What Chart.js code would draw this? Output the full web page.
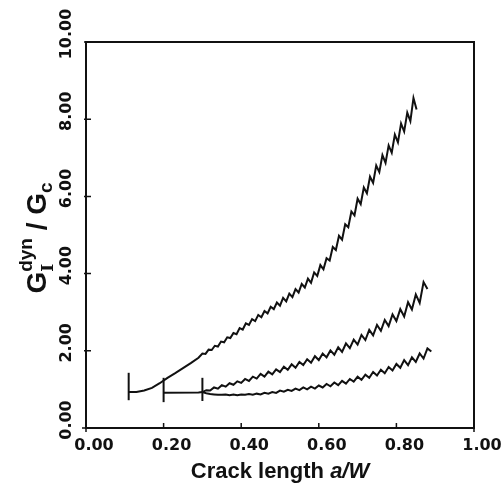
<!DOCTYPE html>
<html>
<head>
<meta charset="utf-8">
<script src="https://cdn.jsdelivr.net/npm/chart.js@4.4.0/dist/chart.umd.min.js"></script>
<style>
  html, body { margin: 0; padding: 0; background: #fff; }
  #wrap { width: 502px; height: 486px; position: relative; }
</style>
</head>
<body>
<div id="wrap"><canvas id="chart"></canvas></div>
<script>
/* axis ticks */
const xTicks = [0, 0.2, 0.4, 0.6, 0.8, 1.0];
const xTickLabels = ["0.00", "0.20", "0.40", "0.60", "0.80", "1.00"];
const yTicks = [0, 2, 4, 6, 8, 10];
const yTickLabels = ["0.00", "2.00", "4.00", "6.00", "8.00", "10.00"];

/* vertical start bars, one per crack start */
const startX = [0.11, 0.20, 0.30];
const startBarLow = [0.72, 0.67, 0.70];
const startBarHigh = [1.43, 1.30, 1.30];

/* curve 1: smooth head, then oscillating part sampled every 0.008 from 0.30 */
const head1X = [0.11, 0.13, 0.15, 0.17, 0.19, 0.21, 0.23, 0.25, 0.27, 0.29];
const head1Y = [0.93, 0.93, 0.97, 1.04, 1.16, 1.30, 1.42, 1.55, 1.68, 1.82];
const osc1Start = 0.30, osc1Step = 0.008;
const osc1Y = [
  1.93, 1.92, 2.03, 2.02, 2.13, 2.11, 2.24, 2.22, 2.35, 2.33,
  2.46, 2.43, 2.59, 2.55, 2.71, 2.67, 2.82, 2.77, 2.93, 2.87,
  3.03, 2.97, 3.14, 3.08, 3.25, 3.17, 3.37, 3.28, 3.48, 3.39,
  3.60, 3.51, 3.73, 3.64, 3.87, 3.76, 4.03, 3.94, 4.22, 4.11,
  4.40, 4.34, 4.69, 4.61, 4.98, 4.88, 5.28, 5.20, 5.61, 5.51,
  5.94, 5.80, 6.23, 6.08, 6.51, 6.35, 6.80, 6.63, 7.07, 6.87,
  7.32, 7.13, 7.60, 7.40, 7.89, 7.68, 8.17, 7.95, 8.55, 8.25
];

/* curve 2: flat head from 0.20, then oscillating part every 0.01 from 0.30 */
const head2X = [0.20, 0.29];
const head2Y = [0.91, 0.92];
const osc2Start = 0.30, osc2Step = 0.01;
const osc2Y = [
  0.93, 0.98, 0.97, 1.05, 1.02, 1.11, 1.07, 1.16, 1.12, 1.21,
  1.17, 1.27, 1.22, 1.33, 1.28, 1.40, 1.33, 1.46, 1.39, 1.52,
  1.45, 1.59, 1.51, 1.65, 1.56, 1.71, 1.63, 1.78, 1.69, 1.86,
  1.76, 1.93, 1.83, 2.01, 1.90, 2.09, 1.97, 2.19, 2.07, 2.29,
  2.16, 2.41, 2.28, 2.54, 2.40, 2.67, 2.52, 2.80, 2.64, 2.94,
  2.77, 3.08, 2.89, 3.26, 3.07, 3.46, 3.24, 3.78, 3.60
];

/* curve 3: oscillating part every 0.01 from 0.30 */
const osc3Start = 0.30, osc3Step = 0.01;
const osc3Y = [
  0.93, 0.90, 0.88, 0.87, 0.86, 0.86, 0.87, 0.85, 0.87, 0.85,
  0.87, 0.86, 0.88, 0.86, 0.89, 0.87, 0.91, 0.89, 0.93, 0.91,
  0.97, 0.94, 0.99, 0.96, 1.02, 0.98, 1.05, 1.00, 1.07, 1.02,
  1.10, 1.05, 1.14, 1.08, 1.18, 1.11, 1.22, 1.15, 1.27, 1.20,
  1.33, 1.25, 1.38, 1.30, 1.45, 1.36, 1.51, 1.42, 1.58, 1.49,
  1.66, 1.56, 1.76, 1.63, 1.83, 1.71, 1.93, 1.80, 2.06, 1.98
];

const toPoints = (xs, ys) => xs.map((x, i) => ({ x: x, y: ys[i] }));
const oscPoints = (start, step, ys) => ys.map((y, i) => ({ x: +(start + i * step).toFixed(4), y: y }));

const lineStyle = {
  showLine: true,
  borderColor: "#111",
  borderWidth: 2,
  pointRadius: 0,
  tension: 0,
  fill: false,
};

const datasets = [
  { ...lineStyle, data: toPoints(head1X, head1Y).concat(oscPoints(osc1Start, osc1Step, osc1Y)) },
  { ...lineStyle, data: toPoints(head2X, head2Y).concat(oscPoints(osc2Start, osc2Step, osc2Y)) },
  { ...lineStyle, data: oscPoints(osc3Start, osc3Step, osc3Y) },
];
startX.forEach((x, i) => {
  datasets.push({ ...lineStyle, data: [{ x: x, y: startBarLow[i] }, { x: x, y: startBarHigh[i] }] });
});

/* frame, ticks, rotated labels and axis titles */
const framePlugin = {
  id: "frame",
  afterDraw(chart) {
    const { ctx, chartArea: a, scales } = chart;
    const xs = scales.x, ys = scales.y;
    ctx.save();
    ctx.strokeStyle = "#111";
    ctx.lineWidth = 2;
    ctx.strokeRect(a.left, a.top, a.right - a.left, a.bottom - a.top);

    ctx.lineWidth = 1.5;
    ctx.beginPath();
    xTicks.forEach((v) => {
      const px = xs.getPixelForValue(v);
      ctx.moveTo(px, a.bottom - 5);
      ctx.lineTo(px, a.bottom + (v === 0 || v === 1 ? 4 : 0));
    });
    yTicks.forEach((v) => {
      const py = ys.getPixelForValue(v);
      ctx.moveTo(a.left - (v === 0 ? 4 : 2), py);
      ctx.lineTo(a.left + 5, py);
    });
    ctx.stroke();

    ctx.fillStyle = "#111";
    ctx.font = "bold 16px 'DejaVu Sans'";
    ctx.textAlign = "center";
    ctx.textBaseline = "middle";
    xTicks.forEach((v, i) => {
      ctx.fillText(xTickLabels[i], xs.getPixelForValue(v) + 8, a.bottom + 18);
    });
    yTicks.forEach((v, i) => {
      ctx.save();
      ctx.translate(a.left - 19, ys.getPixelForValue(v) - 8);
      ctx.rotate(-Math.PI / 2);
      ctx.fillText(yTickLabels[i], 0, 0);
      ctx.restore();
    });

    // x title: "Crack length a/W"
    ctx.textAlign = "left";
    ctx.textBaseline = "alphabetic";
    const t1 = "Crack length ";
    const t2 = "a/W";
    ctx.font = "bold 22px 'Liberation Sans'";
    const w1 = ctx.measureText(t1).width;
    ctx.font = "italic bold 22px 'Liberation Sans'";
    const w2 = ctx.measureText(t2).width;
    const x0 = (a.left + a.right) / 2 - (w1 + w2) / 2;
    ctx.font = "bold 22px 'Liberation Sans'";
    ctx.fillText(t1, x0, 478);
    ctx.font = "italic bold 22px 'Liberation Sans'";
    ctx.fillText(t2, x0 + w1, 478);

    // y title: G_I^dyn / G_c (rotated)
    ctx.save();
    ctx.translate(46, 238);
    ctx.rotate(-Math.PI / 2);
    const parts = [
      { t: "G", f: "bold 28px 'Liberation Sans'", dy: 0, adv: true },
      { t: "I", f: "bold 17px 'DejaVu Serif'", dy: 7, adv: false },
      { t: "dyn", f: "bold 19px 'Liberation Sans'", dy: -14, adv: true },
      { t: " / ", f: "bold 28px 'Liberation Sans'", dy: 0, adv: true },
      { t: "G", f: "bold 28px 'Liberation Sans'", dy: 0, adv: true },
      { t: "c", f: "bold 19px 'Liberation Sans'", dy: 6, adv: true },
    ];
    let total = 0;
    parts.forEach((p) => { ctx.font = p.f; if (p.adv) total += ctx.measureText(p.t).width; });
    let cx = -total / 2;
    parts.forEach((p) => {
      ctx.font = p.f;
      ctx.fillText(p.t, cx, p.dy);
      if (p.adv) cx += ctx.measureText(p.t).width;
    });
    ctx.restore();
    ctx.restore();
  },
};

new Chart(document.getElementById("chart"), {
  type: "scatter",
  data: { datasets: datasets },
  options: {
    responsive: true,
    maintainAspectRatio: false,
    animation: false,
    layout: { padding: { left: 86, right: 28, top: 42, bottom: 58 } },
    scales: {
      x: { type: "linear", min: 0, max: 1, display: false },
      y: { type: "linear", min: 0, max: 10, display: false },
    },
    plugins: {
      legend: { display: false },
      tooltip: { enabled: false },
    },
  },
  plugins: [framePlugin],
});
</script>
</body>
</html>
